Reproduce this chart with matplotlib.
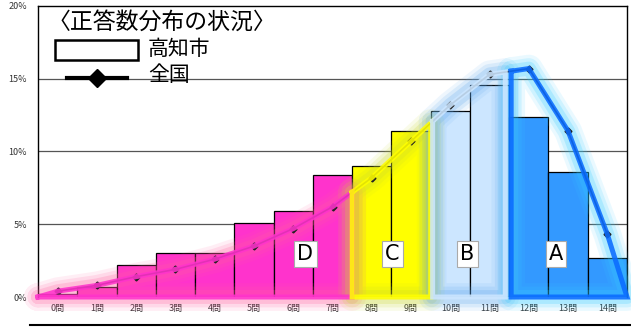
import matplotlib
matplotlib.use("Agg")
import matplotlib.pyplot as plt
import numpy as np
from matplotlib.patches import Rectangle

plt.rcParams['font.family'] = ['Noto Sans CJK JP', 'DejaVu Sans']

# data (percent)
labels = [f"{i}問" for i in range(15)]
kochi = [0.2, 0.7, 2.2, 3.0, 3.0, 5.1, 5.9, 8.4, 9.0, 11.4, 12.8, 14.6, 12.4, 8.6, 2.7]
national = [0.4, 0.8, 1.4, 1.9, 2.6, 3.5, 4.7, 6.2, 8.2, 10.7, 13.2, 15.3, 15.7, 11.4, 4.3]
bar_colors = ["#ff33cc"] * 8 + ["#ffff00"] * 2 + ["#cce6ff"] * 2 + ["#3399ff"] * 3

# score bands: (letter, first, last, line colour, glow colour, label x)
bands = [
    ("D", 0, 7, "#ff33cc", "#ff5f9f", 6.31),
    ("C", 8, 9, "#ffff00", "#c8d830", 8.53),
    ("B", 10, 11, "#cce6ff", "#5fa8ee", 10.44),
    ("A", 12, 14, "#0a6cff", "#33ccff", 12.69),
]

fig = plt.figure(figsize=(6.31, 3.27), dpi=100)
ax = fig.add_axes([0.0602, 0.0917, 0.9335, 0.890])

x = np.arange(len(kochi))
ax.bar(x, kochi, width=1.0, color=bar_colors, edgecolor="black", linewidth=0.9, zorder=2)

ax.set_xlim(-0.5, 14.5)
ax.set_ylim(0, 20)
ax.set_yticks([0, 5, 10, 15, 20])
ax.set_yticklabels(["0%", "5%", "10%", "15%", "20%"], fontsize=6.5, color="#333333")
ax.set_xticks(x)
ax.set_xticklabels(labels, fontsize=6.5, color="#333333")
ax.tick_params(length=0, pad=5)
ax.tick_params(axis="y", pad=8)
for yv in [5, 10, 15]:
    ax.axhline(yv, color="#555555", linewidth=0.9, zorder=1)
for s in ["top", "right", "left"]:
    ax.spines[s].set_linewidth(1.0)
ax.spines["bottom"].set_visible(False)

# national line
ax.plot(x, national, color="#222222", linewidth=1.2, marker="D", markersize=3.5,
        zorder=4)


def band_outline(first, last, left_in, right_in):
    xl = first - 0.5 + left_in
    xr = last + 0.5 - right_in
    xs = [xl] + list(x[first:last + 1]) + [xr]
    ys = list(national[first:last + 1])
    yl = np.interp(xl, x, national) if first > 0 else 0
    yr = np.interp(xr, x, national) if last < 14 else 0
    xs = xs + [xr, xl, xl]
    ys = [yl] + ys + [yr, 0, 0, yl]
    return xs, ys


insets = {"D": (0.0, 0.0), "C": (0.0, 0.0), "B": (0.05, 0.1), "A": (0.05, 0.0)}
for name, first, last, col, glow, lx in bands:
    li, ri = insets[name]
    xs, ys = band_outline(first, last, li, ri)
    for lw, a in [(20, 0.10), (15, 0.15), (10, 0.22)]:
        ax.plot(xs, ys, color=glow, linewidth=lw, alpha=a, solid_joinstyle="round",
                solid_capstyle="round", zorder=3, clip_on=False)
    ax.plot(xs, ys, color=col, linewidth=3.6, alpha=0.88, solid_joinstyle="miter",
            zorder=5, clip_on=False)
    ax.text(lx, 2.95, name, fontsize=15, ha="center", va="center", zorder=6,
            family="DejaVu Sans",
            bbox=dict(boxstyle="square,pad=0.15", facecolor="white",
                      edgecolor="#aaaaaa", linewidth=0.8))

# legend drawn by hand
fig.text(0.076, 0.933, "〈正答数分布の状況〉", fontsize=16.5, va="center", ha="left")
fig.patches.append(Rectangle((55 / 631, 1 - 60 / 327), 83 / 631, 20 / 327,
                             transform=fig.transFigure, facecolor="white",
                             edgecolor="black", linewidth=1.8, zorder=6))
fig.text(148 / 631, 1 - 49 / 327, "高知市", fontsize=15, va="center", ha="left")
fig.lines.append(plt.Line2D([67 / 631, 127 / 631], [1 - 78 / 327, 1 - 78 / 327],
                            transform=fig.transFigure, color="black", linewidth=3))
fig.lines.append(plt.Line2D([97 / 631], [1 - 78 / 327], transform=fig.transFigure,
                            color="black", marker="D", markersize=9, linestyle="none"))
fig.text(148 / 631, 1 - 75 / 327, "全国", fontsize=15, va="center", ha="left")

# frame line of the box underneath
fig.lines.append(plt.Line2D([30 / 631, 1.0], [1 - 325 / 327, 1 - 325 / 327],
                            transform=fig.transFigure, color="black", linewidth=1.5))

fig.savefig("out.png", dpi=100)
